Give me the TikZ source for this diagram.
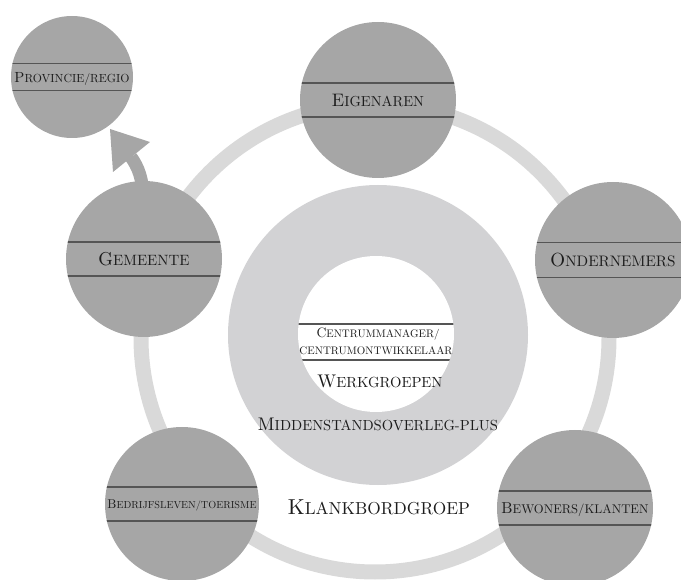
\documentclass[tikz,border=0pt]{standalone}
\usepackage{graphicx}
\definecolor{nodegray}{HTML}{A6A6A6}
\definecolor{ringgray}{HTML}{D9D9D9}
\definecolor{discgray}{HTML}{D2D2D4}
\definecolor{linegray}{HTML}{555555}
\definecolor{txt}{HTML}{1C1C1C}
\newcommand\fsc[2]{#1\scalebox{0.8}{#2}}
\newcommand\fitw[2]{\resizebox{#1}{!}{#2}}
\tikzset{
  outer/.style={circle, fill=nodegray, draw=none, inner sep=0pt, minimum size=#1, text=txt, text depth=0pt},
  bands/.style={path picture={
      \draw[linegray, line width=1.4pt] ([yshift=#1]path picture bounding box.west) -- ([yshift=#1]path picture bounding box.east);
      \draw[linegray, line width=1.4pt] ([yshift=-#1]path picture bounding box.west) -- ([yshift=-#1]path picture bounding box.east);}},
  lbl/.style={inner sep=0pt, text=txt, text depth=0pt},
}
\begin{document}
\begin{tikzpicture}[x=1pt, y=-1pt]
\useasboundingbox (0,0) rectangle (681,580);
\clip (0,0) rectangle (681,580);
% ring
\coordinate (rc) at (375,338);
\draw[ringgray, line width=15pt] (rc) circle (234pt);
% central disc
\node[circle, fill=discgray, inner sep=0pt, minimum size=300pt] (disc) at (378,335) {};
\node[circle, fill=white, inner sep=0pt, minimum size=156pt,
  path picture={
    \draw[linegray, line width=1.4pt] ([yshift=10pt]path picture bounding box.west) -- ([yshift=10pt]path picture bounding box.east);
    \draw[linegray, line width=1.4pt] ([yshift=-26pt]path picture bounding box.west) -- ([yshift=-26pt]path picture bounding box.east);}
  ] (core) at (376,334) {};
\node[lbl] (cm1) at (378,333) {\fitw{123pt}{\fsc{C}{ENTRUMMANAGER/}}};
\node[lbl] (cm2) at (376,351) {\fitw{153pt}{\scalebox{0.8}{CENTRUMONTWIKKELAAR}}};
\node[lbl] (werk) at (380,381) {\fitw{125pt}{\fsc{W}{ERKGROEPEN}}};
\node[lbl] (mid) at (378,424) {\fitw{240pt}{\fsc{M}{IDDENSTANDSOVERLEG-PLUS}}};
\node[lbl] (klank) at (379,507) {\fitw{182pt}{\fsc{K}{LANKBORDGROEP}}};
% arrow gemeente -> provincie
\coordinate (arrS) at (143,200);
\coordinate (arrE) at (131,157);
\draw[nodegray, line width=13pt] (arrS) .. controls (143,178) and (138,167) .. (arrE);
\fill[nodegray] (110,129) -- (150,142) -- (113,172) -- cycle;
% outer circles
\node[outer=122pt, bands=13.5pt] (prov) at (72,77) {\fitw{115pt}{\fsc{P}{ROVINCIE/REGIO}}};
\node[outer=156pt, bands=17pt] (eig) at (378,100) {\fitw{92pt}{\fsc{E}{IGENAREN}}};
\node[outer=156pt, bands=17.5pt] (ond) at (613,260) {\fitw{125pt}{\fsc{O}{NDERNEMERS}}};
\node[outer=156pt, bands=17pt] (gem) at (144,259) {\fitw{91pt}{\fsc{G}{EMEENTE}}};
\node[outer=154pt, bands=17pt] (bed) at (182,504) {\fitw{149pt}{\fsc{B}{EDRIJFSLEVEN/TOERISME}}};
\node[outer=156pt, bands=17pt] (bew) at (575,508) {\fitw{147pt}{\fsc{B}{EWONERS/KLANTEN}}};
\end{tikzpicture}
\end{document}
